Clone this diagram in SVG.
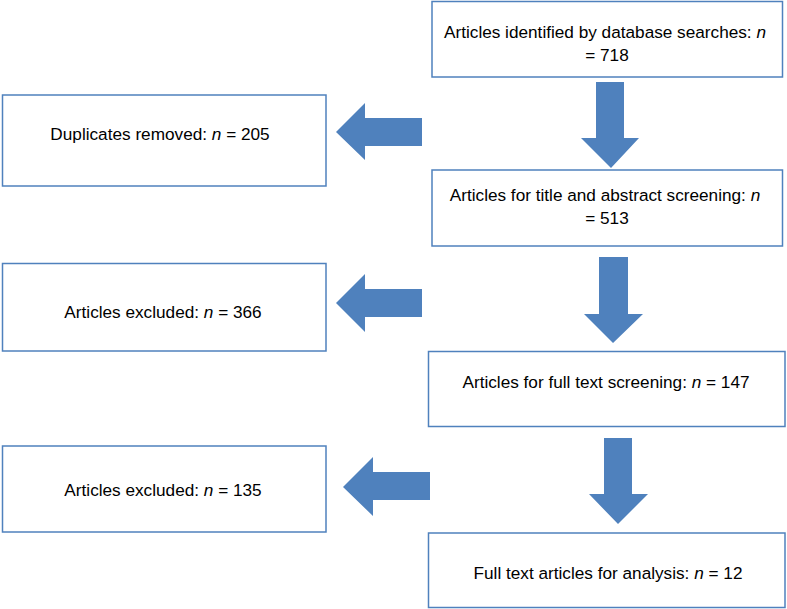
<svg xmlns="http://www.w3.org/2000/svg" width="787" height="609" viewBox="0 0 787 609">
<style>
.box{fill:#fff;stroke:#4F81BD;stroke-width:1.5}
.arr{fill:#4F81BD;stroke:none}
text{font-family:"Liberation Sans",Arial,sans-serif;font-size:17.2px;fill:#000;text-anchor:middle}
.i{font-style:italic}
</style>
<rect width="787" height="609" fill="#fff"/>
<g id="n1"><rect class="box" x="432" y="1.5" width="350.5" height="75.5"/>
<text x="605" y="38">Articles identified by database searches: <tspan class="i">n</tspan></text>
<text x="607" y="61">= 718</text></g>
<g id="n2"><rect class="box" x="432" y="170" width="350.5" height="76"/>
<text x="605" y="201">Articles for title and abstract screening: <tspan class="i">n</tspan></text>
<text x="607" y="224">= 513</text></g>
<g id="n3"><rect class="box" x="428.5" y="351.5" width="356.5" height="75"/>
<text x="606" y="388">Articles for full text screening: <tspan class="i">n</tspan> = 147</text></g>
<g id="n4"><rect class="box" x="428.5" y="533" width="356.5" height="74.5"/>
<text x="608" y="579">Full text articles for analysis: <tspan class="i">n</tspan> = 12</text></g>
<g id="d1"><rect class="box" x="2.5" y="95" width="323.5" height="91"/>
<text x="160" y="140">Duplicates removed: <tspan class="i">n</tspan> = 205</text></g>
<g id="d2"><rect class="box" x="2.5" y="263.5" width="323.5" height="87.5"/>
<text x="163" y="318">Articles excluded: <tspan class="i">n</tspan> = 366</text></g>
<g id="d3"><rect class="box" x="2.5" y="446" width="323.5" height="86"/>
<text x="163" y="496">Articles excluded: <tspan class="i">n</tspan> = 135</text></g>
<g id="connectors">
<polygon class="arr" points="596,82 624,82 624,138 639,138 611,168 581,138 596,138"/>
<polygon class="arr" points="599,257 628,257 628,314 643,314 613,343 584,314 599,314"/>
<polygon class="arr" points="604,438 632,438 632,494 648,494 618,524 589,494 604,494"/>
<polygon class="arr" points="422,118 422,146 365,146 365,160 336,132 365,103 365,118"/>
<polygon class="arr" points="422,289 422,317 365,317 365,332 336,303 365,274 365,289"/>
<polygon class="arr" points="430,472 430,500 373,500 373,516 343,487 373,457 373,472"/>
</g>
</svg>
